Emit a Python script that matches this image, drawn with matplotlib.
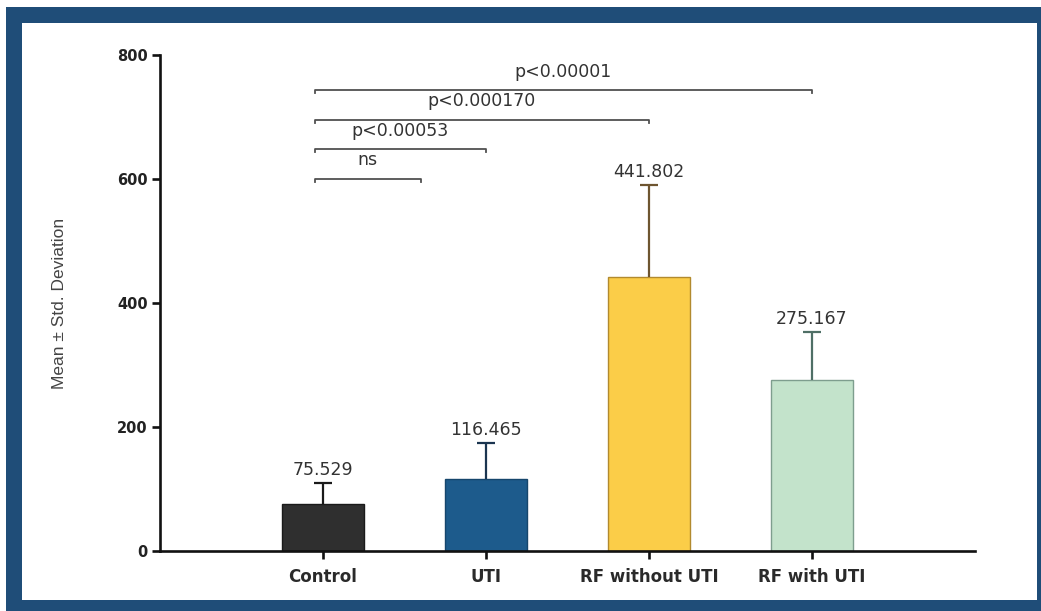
import matplotlib
matplotlib.use("Agg")
import matplotlib.pyplot as plt
from matplotlib.patches import Rectangle

# Group means and standard deviations
categories = ["Control", "UTI", "RF without UTI", "RF with UTI"]
means = [75.529, 116.465, 441.802, 275.167]
std_devs = [34, 58, 148, 78]

# Pairwise comparisons against Control: (end group position, bracket height, label)
comparison_ends = [0.6, 1.0, 2.0, 3.0]
comparison_heights = [600, 648, 695, 743]
comparison_labels = ["ns", "p<0.00053", "p<0.000170", "p<0.00001"]

y_ticks = [0, 200, 400, 600, 800]

fill_colors = ["#2f2f2f", "#1d5b8c", "#fbcd48", "#c3e3cb"]
edge_colors = ["#1a1a1a", "#16466c", "#b28a2e", "#7e9e8e"]
err_colors = ["#1a1a1a", "#1b3550", "#6e5530", "#4f6f66"]

plt.rcParams["font.family"] = ["DejaVu Sans"]

fig = plt.figure(figsize=(10.41, 6.11), dpi=100)
W, H = 1041, 611

# Blue frame around the plotting area
frame_color = "#1f4d78"
fig.patches.append(Rectangle((6 / W, 0), (1041 - 6) / W, (611 - 7) / H,
                             transform=fig.transFigure, facecolor=frame_color,
                             edgecolor="none", zorder=-2))
fig.patches.append(Rectangle((22 / W, 11 / H), (1037 - 22) / W, (600 - 23) / H,
                             transform=fig.transFigure, facecolor="white",
                             edgecolor="none", zorder=-1))

ax = fig.add_axes([160 / W, 60 / H, 815 / W, 496 / H])
ax.patch.set_alpha(0)

x = list(range(len(categories)))
ax.bar(x, means, width=0.5, color=fill_colors, edgecolor=edge_colors,
       linewidth=1.0, zorder=2)
for xi, m, sd, ec in zip(x, means, std_devs, err_colors):
    _, caps, _ = ax.errorbar(xi, m, yerr=[[0], [sd]], fmt="none", ecolor=ec,
                             elinewidth=1.6, capsize=6.5, capthick=1.6, zorder=3)
    # only the upper whisker gets a cap
    caps[0].set_visible(False)
    ax.annotate(f"{m:.3f}", (xi, m + sd), xytext=(0, 3),
                textcoords="offset points", ha="center", va="bottom",
                fontsize=12.5, color="#333333")

# Significance brackets
start = -0.05
tick = 5
for end, h, lab in zip(comparison_ends, comparison_heights, comparison_labels):
    ax.plot([start, start, end, end], [h - tick, h, h, h - tick],
            color="#505050", lw=1.3, clip_on=False, zorder=3)
    ax.text((start + end) / 2, h + 30, lab, ha="center", va="center",
            fontsize=12.5, color="#333333")

ax.set_xlim(-1, 4)
ax.set_ylim(0, 800)
ax.set_yticks(y_ticks)
ax.set_xticks(x)
ax.set_xticklabels(categories, fontweight="bold", fontsize=12, color="#2a2a2a")
for t in ax.get_yticklabels():
    t.set_fontweight("bold")
    t.set_fontsize(10.5)
    t.set_color("#222222")

for side in ["top", "right"]:
    ax.spines[side].set_visible(False)
for side in ["left", "bottom"]:
    ax.spines[side].set_linewidth(1.9)
    ax.spines[side].set_color("#111111")
ax.tick_params(axis="both", length=6, width=1.9, color="#111111")
ax.tick_params(axis="y", pad=3)
ax.tick_params(axis="x", pad=6)

ax.set_ylabel("Mean ± Std. Deviation", fontsize=12.5, color="#444444",
              family=["Liberation Sans", "DejaVu Sans"])
ax.yaxis.set_label_coords(-0.114, 0.5)

fig.savefig("out.png", dpi=100)
